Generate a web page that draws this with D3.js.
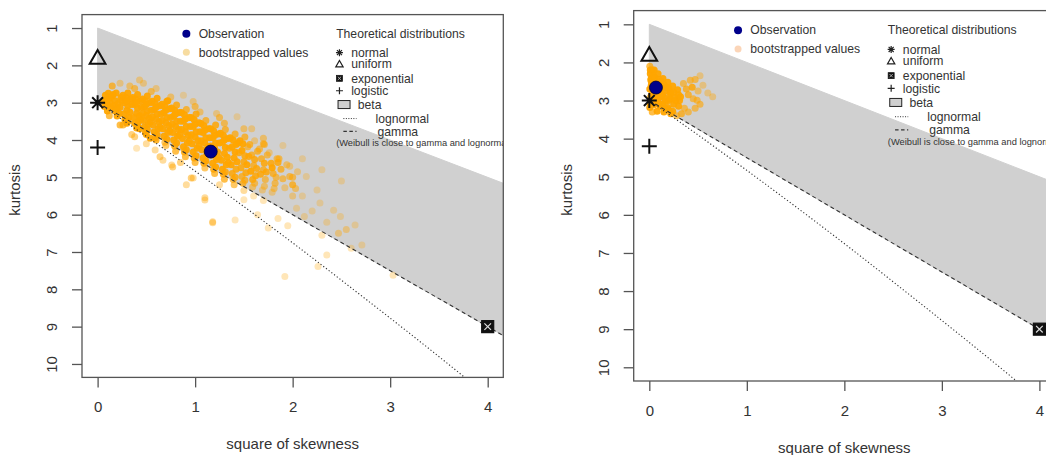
<!DOCTYPE html>
<html><head><meta charset="utf-8">
<script src="https://cdn.jsdelivr.net/npm/d3@7/dist/d3.min.js"></script>
<style>body{margin:0;background:#fff}svg{display:block}text{font-family:"Liberation Sans",Arial,sans-serif}</style>
</head><body>
<svg id="chart" width="1046" height="455"></svg>
<script>
// ---------------- DATA ----------------
const xTicks = [0, 1, 2, 3, 4];
const yTicks = [1, 2, 3, 4, 5, 6, 7, 8, 9, 10];
const xLabel = "square of skewness";
const yLabel = "kurtosis";

// observation (skewness^2, kurtosis)
const obsLeft = [1.16, 4.31];
const obsRight = [0.068, 2.66];

// theoretical distributions
const theoNames = ["normal", "uniform", "exponential", "logistic"];
const theoSkew2 = [0, 0, 4, 0];
const theoKurt = [3, 1.8, 9, 4.2];

// lognormal curve
const lognormalCurve = [[0,3],[0.465,3.84],[0.961,4.76],[1.488,5.76],[2.048,6.85],[2.64,8.04],[3.267,9.32],[3.793,10.42],[4.064,11.0]];
// gamma line
const gammaLine = [[0,3],[4.4,9.6]];
// beta region upper limit
const betaUpper = [[0,1],[4.4,5.4]];

const legendLeftLabels = ["Observation", "bootstrapped values"];
const legendTitle = "Theoretical distributions";
const legendDistLabels = ["normal", "uniform", "exponential", "logistic", "beta", "lognormal", "gamma"];
const weibullNote = "(Weibull is close to gamma and lognormal)";

// bootstrapped values, left panel
const bootLeft = [
[0.06,2.95],[0.08,2.8],[0.1,3.05],[0.12,2.88],[0.14,3.12],[0.07,3.1],[0.11,2.75],[0.13,3.0],[0.09,2.92],[0.15,2.82],
[0.16,2.78],[0.18,2.95],[0.2,3.15],[0.22,3.28],[0.24,2.86],[0.17,3.08],[0.19,2.74],[0.21,3.02],[0.23,3.12],[0.25,2.95],[0.18,3.22],
[0.26,2.8],[0.28,3.0],[0.3,3.2],[0.32,3.4],[0.34,2.9],[0.27,3.3],[0.29,2.86],[0.31,3.08],[0.33,3.25],[0.35,3.05],[0.28,3.45],[0.3,2.95],
[0.36,2.86],[0.38,3.05],[0.4,3.28],[0.42,3.5],[0.44,2.95],[0.37,3.4],[0.39,2.9],[0.41,3.15],[0.43,3.35],[0.45,3.12],[0.38,3.55],[0.4,3.0],[0.44,3.45],
[0.46,2.9],[0.48,3.1],[0.5,3.34],[0.52,3.58],[0.54,3.0],[0.47,3.48],[0.49,2.95],[0.51,3.22],[0.53,3.42],[0.55,3.2],[0.48,3.65],[0.5,3.05],[0.54,3.52],[0.46,3.28],
[0.56,2.96],[0.58,3.18],[0.6,3.44],[0.62,3.7],[0.64,3.08],[0.57,3.6],[0.59,3.02],[0.61,3.3],[0.63,3.52],[0.65,3.3],[0.58,3.78],[0.6,3.12],[0.64,3.65],[0.56,3.38],
[0.66,3.04],[0.68,3.26],[0.7,3.54],[0.72,3.8],[0.74,3.16],[0.67,3.7],[0.69,3.1],[0.71,3.4],[0.73,3.62],[0.75,3.4],[0.68,3.9],[0.7,3.2],[0.74,3.75],[0.66,3.48],
[0.76,3.14],[0.78,3.36],[0.8,3.64],[0.82,3.9],[0.84,3.26],[0.77,3.8],[0.79,3.2],[0.81,3.5],[0.83,3.72],[0.85,3.5],[0.78,4.0],[0.8,3.3],[0.84,3.86],[0.76,3.58],
[0.86,3.26],[0.88,3.5],[0.9,3.78],[0.92,4.08],[0.94,3.4],[0.87,3.96],[0.89,3.32],[0.91,3.64],[0.93,3.88],[0.95,3.64],[0.88,4.18],[0.9,3.44],[0.94,4.02],[0.86,3.72],
[0.96,3.4],[0.98,3.64],[1.0,3.92],[1.02,4.22],[1.04,3.54],[0.97,4.1],[0.99,3.46],[1.01,3.78],[1.03,4.02],[1.05,3.78],[0.98,4.32],[1.0,3.58],[1.04,4.16],[0.96,3.86],
[1.06,3.56],[1.08,3.8],[1.1,4.08],[1.12,4.38],[1.14,3.7],[1.07,4.26],[1.09,3.62],[1.11,3.94],[1.13,4.18],[1.15,3.94],[1.08,4.48],[1.1,3.74],[1.14,4.32],[1.06,4.02],
[1.16,3.7],[1.18,3.94],[1.2,4.22],[1.22,4.52],[1.24,3.84],[1.17,4.4],[1.19,3.76],[1.21,4.08],[1.23,4.32],[1.25,4.08],[1.18,4.62],[1.2,3.88],[1.24,4.46],[1.16,4.16],
[1.26,3.82],[1.28,4.06],[1.3,4.36],[1.32,4.66],[1.34,3.96],[1.27,4.54],[1.29,3.88],[1.31,4.2],[1.33,4.46],[1.35,4.22],[1.28,4.78],[1.3,4.0],[1.34,4.6],
[1.36,3.94],[1.38,4.18],[1.4,4.48],[1.42,4.78],[1.44,4.08],[1.37,4.66],[1.39,4.0],[1.41,4.32],[1.43,4.58],[1.45,4.34],[1.38,4.9],[1.42,4.12],
[1.46,4.02],[1.48,4.28],[1.5,4.58],[1.52,4.88],[1.54,4.18],[1.47,4.74],[1.49,4.1],[1.51,4.42],[1.53,4.66],[1.55,4.44],[1.48,4.98],
[1.56,4.12],[1.58,4.4],[1.6,4.68],[1.62,4.96],[1.64,4.3],[1.57,4.84],[1.61,4.52],[1.63,4.76],[1.59,5.06],
[1.66,4.24],[1.68,4.5],[1.7,4.8],[1.72,5.06],[1.74,4.4],[1.67,4.92],[1.71,4.62],[1.73,4.86],
[1.76,4.34],[1.78,4.62],[1.8,4.9],[1.82,5.16],[1.84,4.5],[1.79,4.74],[1.83,5.0],
[1.86,4.5],[1.88,4.78],[1.9,5.04],[1.92,5.28],[1.94,4.66],
[1.97,4.7],[2.0,5.0],[2.03,5.3],[2.05,4.85],
// fill between core and gamma line
[0.1,3.22],[0.2,3.36],[0.31,3.5],[0.41,3.62],[0.43,3.7],[0.51,3.72],[0.49,3.8],[0.61,3.86],[0.59,3.94],[0.71,3.98],[0.69,4.06],
[0.81,4.08],[0.79,4.16],[0.91,4.26],[0.89,4.32],[1.01,4.42],[0.99,4.48],[1.11,4.56],[1.09,4.62],[1.21,4.72],[1.19,4.78],
[1.31,4.86],[1.29,4.92],[1.41,5.0],[1.39,5.06],[1.51,5.08],[1.49,5.16],[1.61,5.16],[1.59,5.26],[1.71,5.24],[1.69,5.34],[1.81,5.3],[1.79,5.4],
// upper fringe of the core
[0.31,2.74],[0.51,2.82],[0.71,2.96],[0.91,3.18],[1.11,3.48],[1.31,3.72],[1.51,3.92],[1.71,4.12],
[0.41,2.78],[0.61,2.88],[0.81,3.06],[1.01,3.3],[1.21,3.6],[1.41,3.84],[1.61,4.02],
// lighter points around the core
[0.23,3.6],[0.38,3.91],[0.59,4.27],[0.76,4.67],[0.96,5.02],[1.1,5.55],
[0.3,3.55],[0.5,3.85],[0.7,4.15],[0.9,4.45],[1.1,4.75],[1.3,5.05],[1.5,5.35],[1.7,5.62],
[0.4,3.68],[0.6,4.0],[0.8,4.3],[1.0,4.6],[1.2,4.9],[1.4,5.2],[1.6,5.5],
[0.38,2.62],[0.55,2.7],[0.75,2.85],[1.0,3.1],[1.25,3.4],[1.5,3.7],[1.7,3.95],[1.9,4.15],[2.1,4.5],[2.3,4.8],[2.5,5.1],
[0.23,2.48],[0.43,2.39],[0.47,2.48],[0.6,2.62],[0.88,2.8],[0.98,2.97],[1.22,3.29],[1.43,3.38],[0.26,3.6],[0.4,4.22],
[0.64,4.45],[0.67,4.54],[0.77,4.72],[0.54,3.95],[0.91,5.2],[0.98,5.02],[1.1,5.61],[1.18,6.19],[1.41,6.14],[1.75,6.36],
[1.64,6.0],[2.25,5.34],[2.28,5.69],[2.42,5.88],[2.49,6.05],[2.64,6.28],[2.71,6.81],[2.04,5.83],[2.14,4.98],[1.97,4.98],
[1.92,7.66],[2.26,7.39],[2.35,7.08],[3.03,7.62],[1.18,6.22],[2.47,6.5],[1.58,3.7],[1.7,4.1],[1.85,4.6],[2.0,5.2],
[2.1,5.5],[2.2,5.9],[1.3,3.55],[0.15,2.55],[0.33,2.55],[0.72,2.95],[1.05,3.25],[2.35,6.2],[2.55,6.4],[1.95,6.3],
[1.5,5.6],[1.25,5.2],[0.85,4.6],[0.35,3.85],[0.5,4.1],[2.0,5.5],[2.12,6.05],[1.85,6.1],[0.12,3.35],[2.3,6.55],[2.6,6.9]
];

// bootstrapped values, right panel
const bootRight = [
[0.005,2.1],[0.01,2.3],[0.02,2.5],[0.005,2.7],[0.015,2.9],[0.01,3.1],[0.03,2.2],[0.025,2.4],[0.02,2.6],[0.03,2.8],[0.025,3.0],[0.005,3.18],[0.01,2.2],[0.015,2.45],[0.03,2.65],
[0.05,2.2],[0.045,2.35],[0.055,2.55],[0.05,2.75],[0.06,2.95],[0.045,3.12],[0.06,2.4],[0.055,2.85],[0.04,2.65],[0.065,3.05],
[0.09,2.3],[0.1,2.45],[0.11,2.62],[0.1,2.8],[0.09,2.98],[0.11,3.15],[0.12,2.5],[0.085,2.7],[0.115,2.9],[0.1,3.08],
[0.14,2.42],[0.15,2.58],[0.16,2.75],[0.15,2.92],[0.14,3.1],[0.16,3.2],[0.17,2.65],[0.135,2.85],[0.165,3.02],
[0.19,2.52],[0.2,2.68],[0.21,2.85],[0.2,3.0],[0.19,3.18],[0.22,2.78],[0.215,2.95],[0.2,3.25],
[0.24,2.62],[0.25,2.78],[0.26,2.92],[0.25,3.1],[0.27,3.0],[0.24,3.28],
[0.29,2.72],[0.3,2.85],[0.31,3.0],[0.3,3.15],[0.32,2.9],
[0.35,2.55],[0.38,2.7],[0.42,2.47],[0.4,2.85],[0.45,2.95],[0.49,2.99],[0.55,2.6],[0.36,3.2],[0.33,3.35],[0.28,3.4],
[0.4,3.3],[0.47,3.2],[0.5,2.75],[0.08,3.28],[0.15,3.3],[0.22,3.35],[0.6,2.8],[0.44,2.65],[0.52,3.1],[0.03,3.3],[0.65,2.9],
[0.52,2.35],[0.47,2.45]
];

// ---------------- DRAW ----------------
const svg = d3.select("#chart");
const FONT = '"Liberation Sans", Arial, sans-serif';

const panels = [
  {id: "L", x0: 82, x1: 503.3, y0: 14.6, y1: 377.4, boot: bootLeft, obs: obsLeft, bootLegendColor: "#f7dca0"},
  {id: "R", x0: 633.7, x1: 1055, y0: 10.6, y1: 381, boot: bootRight, obs: obsRight, bootLegendColor: "#fbd5b8"}
];

function symbol(g, type, cx, cy, s, sw, color) {
  color = color || "#111";
  const h = s / 2;
  if (type === "asterisk") {
    const d = h * 0.72;
    g.append("path").attr("d", `M${cx-h},${cy}H${cx+h}M${cx},${cy-h}V${cy+h}M${cx-d},${cy-d}L${cx+d},${cy+d}M${cx-d},${cy+d}L${cx+d},${cy-d}`)
      .attr("stroke", color).attr("stroke-width", sw).attr("fill", "none");
  } else if (type === "triangle") {
    const r = h * 1.05;
    g.append("path").attr("d", `M${cx},${cy-r}L${cx+r},${cy+r*0.75}L${cx-r},${cy+r*0.75}Z`)
      .attr("stroke", color).attr("stroke-width", sw).attr("fill", "none");
  } else if (type === "plus") {
    g.append("path").attr("d", `M${cx-h},${cy}H${cx+h}M${cx},${cy-h}V${cy+h}`)
      .attr("stroke", color).attr("stroke-width", sw).attr("fill", "none");
  } else if (type === "squareX") {
    g.append("rect").attr("x", cx-h).attr("y", cy-h).attr("width", s).attr("height", s)
      .attr("fill", "#111").attr("stroke", "#111").attr("stroke-width", sw*0.6);
    const q = h * 0.55;
    g.append("path").attr("d", `M${cx-q},${cy-q}L${cx+q},${cy+q}M${cx-q},${cy+q}L${cx+q},${cy-q}`)
      .attr("stroke", "#ddd").attr("stroke-width", sw*0.6).attr("fill", "none");
  }
}
const theoSym = ["asterisk", "triangle", "squareX", "plus"];

panels.forEach(p => {
  const x = d3.scaleLinear().domain([-0.16, 4.16]).range([p.x0, p.x1]);
  const y = d3.scaleLinear().domain([0.64, 10.36]).range([p.y0, p.y1]);
  const g = svg.append("g");

  const clipId = "clip" + p.id;
  svg.append("defs").append("clipPath").attr("id", clipId)
    .append("rect").attr("x", p.x0).attr("y", p.y0).attr("width", p.x1 - p.x0).attr("height", p.y1 - p.y0);
  const plot = g.append("g").attr("clip-path", `url(#${clipId})`);

  // beta region
  const poly = betaUpper.concat(gammaLine.slice().reverse());
  plot.append("path").attr("d", d3.line().x(d => x(d[0])).y(d => y(d[1]))(poly) + "Z")
    .attr("fill", "#d0d0d0").attr("stroke", "#d0d0d0").attr("stroke-width", 1);

  // bootstrapped values: isolated points look pale, overlapping ones saturate
  const pts = p.boot.map(d => [x(d[0]), y(d[1])]);
  const nb = pts.map(a => pts.filter(b => b !== a && Math.hypot(a[0]-b[0], a[1]-b[1]) < 9).length);
  plot.append("g").selectAll("circle").data(p.boot).join("circle")
    .attr("cx", d => x(d[0])).attr("cy", d => y(d[1])).attr("r", 3.5)
    .attr("fill", "#ffa500").attr("fill-opacity", (d, i) => Math.min(0.95, 0.28 + 0.11 * nb[i]));

  // lognormal & gamma
  plot.append("path").attr("d", d3.line().x(d => x(d[0])).y(d => y(d[1])).curve(d3.curveMonotoneX)(lognormalCurve))
    .attr("fill", "none").attr("stroke", "#333").attr("stroke-width", 1.1).attr("stroke-dasharray", "1.2,2.2");
  plot.append("path").attr("d", d3.line().x(d => x(d[0])).y(d => y(d[1]))(gammaLine))
    .attr("fill", "none").attr("stroke", "#333").attr("stroke-width", 1.1).attr("stroke-dasharray", "4,3");

  // theoretical markers
  theoNames.forEach((n, i) => {
    const s = theoSym[i] === "squareX" ? 12 : 15;
    symbol(plot, theoSym[i], x(theoSkew2[i]), y(theoKurt[i]), s, 2);
  });

  // observation
  plot.append("circle").attr("cx", x(p.obs[0])).attr("cy", y(p.obs[1])).attr("r", 6.5)
    .attr("fill", "#00008b").attr("stroke", "#000033").attr("stroke-width", 0.8);

  // box
  g.append("rect").attr("x", p.x0).attr("y", p.y0).attr("width", p.x1 - p.x0).attr("height", p.y1 - p.y0)
    .attr("fill", "none").attr("stroke", "#555").attr("stroke-width", 1.3);

  // axes
  const xa = g.append("g").attr("transform", `translate(0,${p.y1})`)
    .call(d3.axisBottom(x).tickValues(xTicks).tickSize(10).tickPadding(14).tickFormat(d3.format("d")));
  const ya = g.append("g").attr("transform", `translate(${p.x0},0)`)
    .call(d3.axisLeft(y).tickValues(yTicks).tickSize(10).tickFormat(d3.format("d")));
  [xa, ya].forEach(a => {
    a.select(".domain").remove();
    a.selectAll("line").attr("stroke", "#555").attr("stroke-width", 1.3);
    a.selectAll("text").attr("fill", "#333").style("font-size", "15px").style("font-family", FONT);
  });
  ya.selectAll(".tick text").attr("x", null).attr("dy", null)
    .attr("text-anchor", "middle").attr("transform", "translate(-30,0) rotate(-90)").attr("dy", "0.35em");

  // axis titles
  g.append("text").attr("x", (p.x0 + p.x1) / 2).attr("y", p.y1 + 72).attr("text-anchor", "middle")
    .style("font-size", "15px").attr("fill", "#333").text(xLabel);
  g.append("text").attr("transform", `translate(${p.x0 - 62},${(p.y0 + p.y1) / 2 - 6}) rotate(-90)`)
    .attr("text-anchor", "middle").style("font-size", "15px").attr("fill", "#333").text(yLabel);

  // legends (inside plot region, clipped)
  const lg = plot.append("g").style("font-size", "12.2px").attr("fill", "#333");
  const dyC = "0.35em";
  lg.append("circle").attr("cx", x(0.91)).attr("cy", y(1.155)).attr("r", 4).attr("fill", "#00008b");
  lg.append("circle").attr("cx", x(0.91)).attr("cy", y(1.65)).attr("r", 3.5).attr("fill", p.bootLegendColor);
  lg.append("text").attr("x", x(1.036)).attr("y", y(1.155)).attr("dy", dyC).text(legendLeftLabels[0]);
  lg.append("text").attr("x", x(1.036)).attr("y", y(1.65)).attr("dy", dyC).text(legendLeftLabels[1]);
  lg.append("text").attr("x", x(2.446)).attr("y", y(1.155)).attr("dy", dyC).text(legendTitle);

  const rowsY = [1.66, 1.967, 2.347, 2.68, 3.05, 3.425, 3.77];
  const textX = [2.6, 2.6, 2.6, 2.6, 2.667, 2.85, 2.87];
  legendDistLabels.forEach((lab, i) => {
    lg.append("text").attr("x", x(textX[i])).attr("y", y(rowsY[i])).attr("dy", dyC).text(lab);
  });
  for (let i = 0; i < 4; i++) {
    symbol(lg, theoSym[i], x(2.48), y(rowsY[i]), theoSym[i] === "squareX" ? 6 : 7, 1.2, "#222");
  }
  lg.append("rect").attr("x", x(2.527) - 6).attr("y", y(rowsY[4]) - 4).attr("width", 12).attr("height", 8)
    .attr("fill", "#d0d0d0").attr("stroke", "#222").attr("stroke-width", 1);
  lg.append("line").attr("x1", x(2.52)).attr("x2", x(2.655)).attr("y1", y(rowsY[5])).attr("y2", y(rowsY[5]))
    .attr("stroke", "#333").attr("stroke-width", 1).attr("stroke-dasharray", "1,1.5");
  lg.append("line").attr("x1", x(2.52)).attr("x2", x(2.655)).attr("y1", y(rowsY[6])).attr("y2", y(rowsY[6]))
    .attr("stroke", "#333").attr("stroke-width", 1.2).attr("stroke-dasharray", "3.5,2.5");
  lg.append("text").attr("x", x(2.446)).attr("y", y(4.07)).attr("dy", dyC)
    .style("font-size", "9.3px").text(weibullNote);
});
</script>
</body></html>
